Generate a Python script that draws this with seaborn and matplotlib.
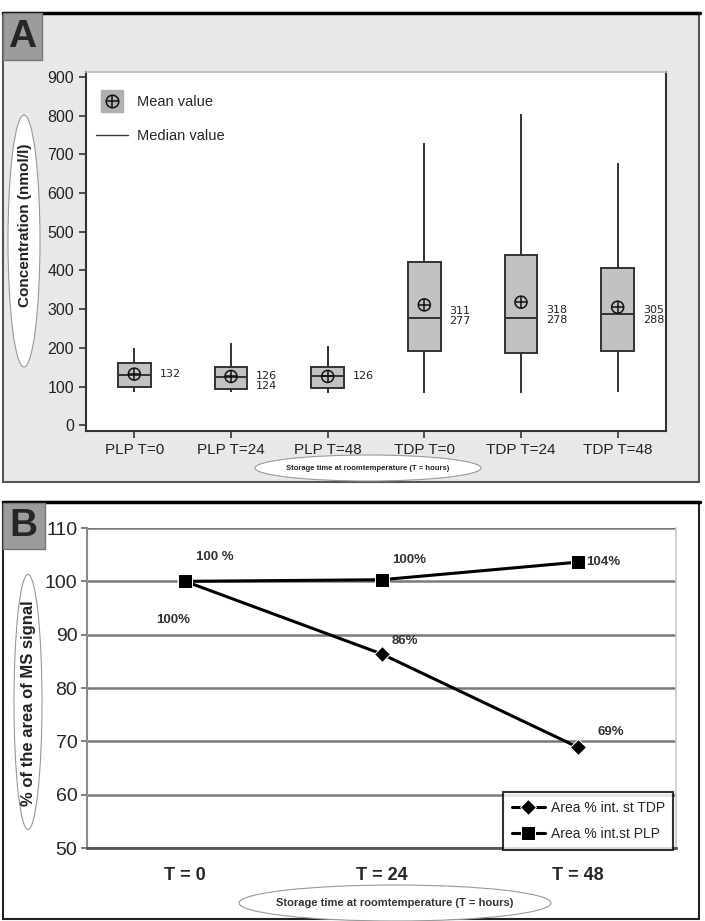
import numpy as np
import pandas as pd
import seaborn as sns
import matplotlib.pyplot as plt
from matplotlib.patches import Rectangle, Ellipse
from matplotlib.lines import Line2D
from matplotlib.legend_handler import HandlerTuple

# Panel A - box summaries
groups = ['PLP T=0', 'PLP T=24', 'PLP T=48', 'TDP T=0', 'TDP T=24', 'TDP T=48']
whisk_lo = [85, 85, 83, 83, 83, 85]
q1 = [98, 93, 96, 191, 186, 191]
median = [130, 124, 126, 277, 278, 288]
q3 = [160, 150, 150, 421, 440, 406]
whisk_hi = [199, 212, 204, 729, 804, 678]
mean = [132, 126, 126, 311, 318, 305]
box_labels = ['132', '126\n124', '126', '311\n277', '318\n278', '305\n288']

# Panel B
times = ['T = 0', 'T = 24', 'T = 48']
tdp_area = [100, 86.4, 68.9]
plp_area = [100, 100.3, 103.6]
tdp_labels = ['100%', '86%', '69%']
plp_labels = ['100 %', '100%', '104%']

# five points per box -> quartiles come out exactly, whiskers = min/max
rows = []
for g, a, b, c, d, e in zip(groups, whisk_lo, q1, median, q3, whisk_hi):
    for v in (a, b, c, d, e):
        rows.append({'group': g, 'value': v})
df_box = pd.DataFrame(rows)

sns.set_theme(style='white')
plt.rcParams['font.family'] = ['Liberation Sans', 'DejaVu Sans']

W, H = 705, 921
fig = plt.figure(figsize=(W / 100, H / 100), dpi=100)


def rect(l, t, r, b):
    return [l / W, 1 - b / H, (r - l) / W, (b - t) / H]


def fpt(x, y):
    return (x / W, 1 - y / H)


# panel frames
fig.add_artist(Rectangle(fpt(3, 482), 696 / W, 469 / H, transform=fig.transFigure,
                         fc='#e8e8e8', ec='#555555', lw=1.5, zorder=-2))
fig.add_artist(Line2D([3 / W, 700 / W], [1 - 13 / H] * 2, color='black', lw=2.5, zorder=-1))
fig.add_artist(Rectangle(fpt(3, 919), 696 / W, 417 / H, transform=fig.transFigure,
                         fc='white', ec='#222222', lw=1.5, zorder=-2))
fig.add_artist(Line2D([3 / W, 700 / W], [1 - 502 / H] * 2, color='black', lw=2.5, zorder=-1))

# letters
fig.add_artist(Rectangle(fpt(3, 60), 39 / W, 47 / H, transform=fig.transFigure,
                         fc='#9c9c9c', ec='#777777', lw=1, zorder=-1))
fig.text(22 / W, 1 - 37 / H, 'A', ha='center', va='center', fontsize=28, fontweight='bold')
fig.add_artist(Rectangle(fpt(3, 549), 42 / W, 46 / H, transform=fig.transFigure,
                         fc='#9c9c9c', ec='#777777', lw=1, zorder=-1))
fig.text(23 / W, 1 - 526 / H, 'B', ha='center', va='center', fontsize=28, fontweight='bold')

# ---------- Panel A ----------
axA = fig.add_axes(rect(86, 72, 666, 431))
axA.set_facecolor('white')
sns.boxplot(data=df_box, x='group', y='value', order=groups, whis=(0, 100), width=0.34,
            color='#c2c2c2', saturation=1, linecolor='#333333', linewidth=1.4,
            showcaps=False, ax=axA)
pos = np.arange(len(groups))
sns.scatterplot(x=pos, y=mean, marker='o', s=75, fc='none', ec='#111111', linewidth=1.1, ax=axA, zorder=5)
sns.scatterplot(x=pos, y=mean, marker='+', s=75, color='#111111', linewidth=1.1, ax=axA, zorder=5)

for i, lab in enumerate(box_labels):
    yc = mean[i] if '\n' not in lab else (mean[i] + median[i]) / 2 - 12
    axA.text(i + 0.26, yc, lab, ha='left', va='center', fontsize=8,
             family='DejaVu Sans', linespacing=1.0, color='#222222')

axA.set_xlim(-0.5, 5.5)
axA.set_ylim(-15, 913)
axA.set_yticks(range(0, 901, 100))
axA.set_xlabel('')
axA.set_ylabel('')
axA.tick_params(axis='x', labelsize=11)
axA.tick_params(axis='y', labelsize=11.5)
axA.tick_params(direction='out', length=5, width=1.2, color='#333333',
                labelcolor='#222222', left=True, bottom=True)
for s in ['left', 'bottom', 'right']:
    axA.spines[s].set_color('#333333')
    axA.spines[s].set_linewidth(1.5)
axA.spines['top'].set_color('#bbbbbb')

h_mean = (Line2D([], [], marker='s', ls='', ms=16, mfc='#b0b0b0', mec='#b0b0b0'),
          Line2D([], [], marker='o', ls='', ms=9, mfc='none', mec='#111111', mew=1.1),
          Line2D([], [], marker='+', ls='', ms=9, mec='#111111', mew=1.1))
h_med = Line2D([], [], color='#333333', lw=1)
axA.legend([h_mean, h_med], ['Mean value', 'Median value'],
           handler_map={tuple: HandlerTuple(ndivide=1, pad=0)}, loc='upper left',
           bbox_to_anchor=(0.0, 0.965), frameon=False, fontsize=10.5, labelspacing=1.4,
           handlelength=2.2, borderaxespad=0.3, handletextpad=0.6)

fig.add_artist(Ellipse(fpt(24, 241), 32 / W, 252 / H, transform=fig.transFigure,
                       fc='white', ec='#999999', lw=0.8))
fig.text(25 / W, 1 - 225 / H, 'Concentration (nmol/l)', rotation=90, ha='center', va='center',
         fontsize=11, fontweight='bold', color='#222222')
fig.add_artist(Ellipse(fpt(368, 468), 226 / W, 26 / H, transform=fig.transFigure,
                       fc='white', ec='#999999', lw=0.8))
fig.text(368 / W, 1 - 468 / H, 'Storage time at roomtemperature (T = hours)', ha='center',
         va='center', fontsize=5.5, fontweight='bold', color='#222222')

# ---------- Panel B ----------
axB = fig.add_axes(rect(87, 528, 676, 848))
xpos = np.arange(len(times))
sns.lineplot(x=xpos, y=tdp_area, marker='D', markersize=8, color='black', lw=2.2,
             label='Area % int. st TDP', ax=axB)
sns.lineplot(x=xpos, y=plp_area, marker='s', markersize=10, color='black', lw=2.2,
             label='Area % int.st PLP', ax=axB)

axB.set_xlim(-0.5, 2.5)
axB.set_ylim(50, 110)
axB.set_yticks(range(50, 111, 10))
axB.set_xticks(xpos)
axB.set_xticklabels(times, fontsize=13, fontweight='bold')
axB.set_xticks([-0.5, 0.5, 1.5, 2.5], minor=True)
axB.tick_params(axis='x', which='major', length=0, pad=14)
axB.tick_params(axis='x', which='minor', direction='out', length=6, width=1.5, color='#666666')
axB.tick_params(axis='y', direction='out', length=4, width=1.2, color='#666666', labelsize=14,
                left=True, pad=3)
axB.yaxis.grid(True, color='#7a7a7a', lw=1.8)
axB.set_axisbelow(True)
axB.set_xlabel('')
axB.set_ylabel('')
axB.spines['top'].set_visible(False)
axB.spines['right'].set_color('#cccccc')
axB.spines['left'].set_color('#8a8a8a')
axB.spines['left'].set_linewidth(1.5)
axB.spines['bottom'].set_color('#555555')
axB.spines['bottom'].set_linewidth(2)

plp_label_pos = [(0.15, 104.6), (1.14, 104.0), (2.13, 103.6)]
tdp_label_pos = [(-0.06, 92.8), (1.12, 88.8), (2.17, 71.8)]
for lab, (x, y) in zip(plp_labels, plp_label_pos):
    axB.text(x, y, lab, ha='center', va='center', fontsize=9.5, fontweight='bold', color='#333333')
for lab, (x, y) in zip(tdp_labels, tdp_label_pos):
    axB.text(x, y, lab, ha='center', va='center', fontsize=9.5, fontweight='bold', color='#333333')

leg = axB.legend(loc='lower right', frameon=True, fancybox=False,
                 edgecolor='black', borderaxespad=0, bbox_to_anchor=(0.995, -0.005),
                 handlelength=2.4, borderpad=0.6, labelspacing=0.9, handletextpad=0.4,
                 prop={'family': ['Liberation Sans Narrow', 'Liberation Sans'], 'size': 10})
leg.get_frame().set_linewidth(1.5)
leg.set_zorder(10)

fig.add_artist(Ellipse(fpt(28, 702), 28 / W, 255 / H, transform=fig.transFigure,
                       fc='white', ec='#999999', lw=0.8))
fig.text(29 / W, 1 - 703 / H, '% of the area of MS signal', rotation=90, ha='center', va='center',
         fontsize=12, fontweight='bold', color='#222222')
fig.add_artist(Ellipse(fpt(395, 903), 312 / W, 36 / H, transform=fig.transFigure,
                       fc='white', ec='#999999', lw=0.8))
fig.text(395 / W, 1 - 903 / H, 'Storage time at roomtemperature (T = hours)', ha='center',
         va='center', fontsize=8, fontweight='bold', color='#333333')

fig.savefig('out.png', dpi=100)
